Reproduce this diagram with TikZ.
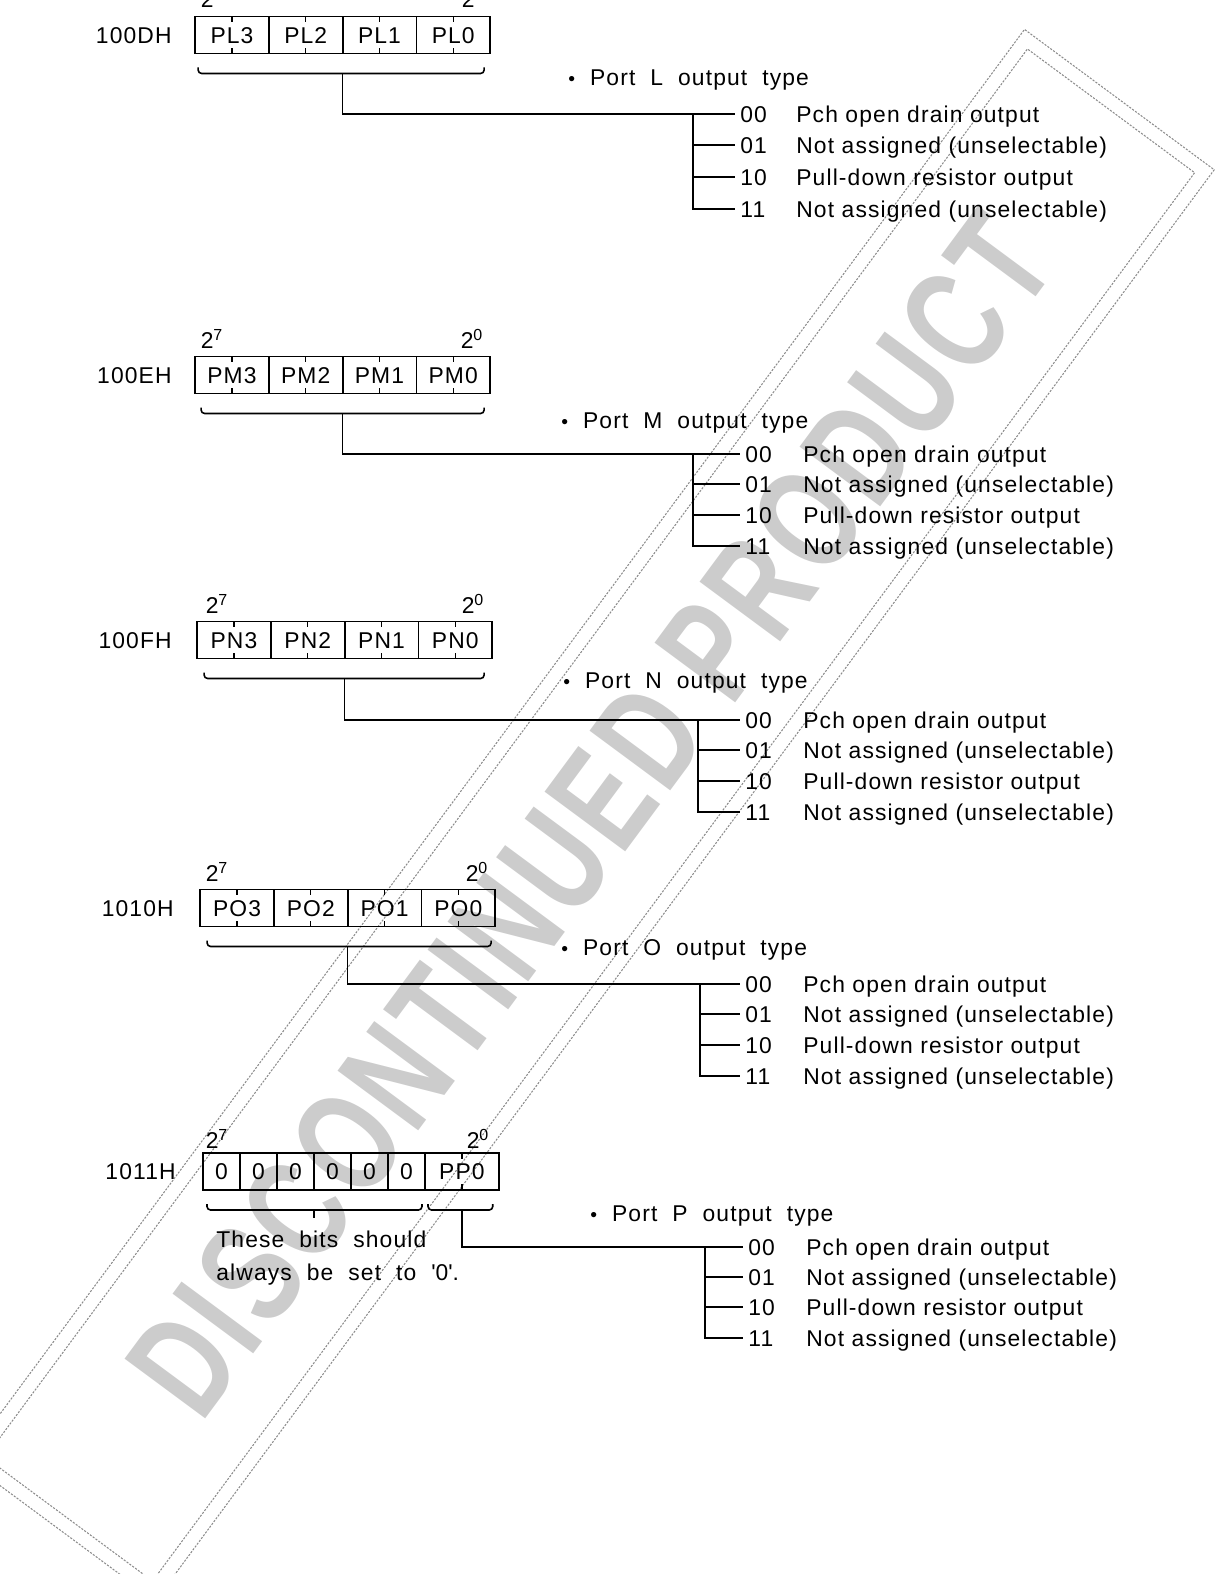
\documentclass[tikz,border=0pt]{standalone}
\usepackage{fontspec}
\setmainfont{Liberation Sans}[LetterSpace=5]
\usetikzlibrary{positioning,calc}
\tikzstyle{txt}=[inner sep=0pt, text height=9.3pt, text depth=0pt]
\tikzstyle{field}=[txt, draw, line width=1pt, minimum width=14.75mm, minimum height=7.4mm, outer sep=0pt,
  path picture={\draw[line width=0.8pt] (path picture bounding box.north) -- ++(0pt,-3.2pt)
    (path picture bounding box.south) -- ++(0pt,3.2pt);}]
\tikzstyle{bit}=[txt, draw, line width=1pt, minimum width=7.4mm, minimum height=7.4mm, outer sep=0pt]
\tikzstyle{addr}=[txt, anchor=east]
\tikzstyle{weight}=[txt]
\tikzstyle{title}=[txt, anchor=west]
\tikzstyle{code}=[txt, anchor=west, inner xsep=1mm]
\tikzstyle{desc}=[txt, anchor=west]
\tikzstyle{note}=[inner sep=0pt, anchor=north west, align=left, font=\fontsize{13}{18.3}\selectfont]
\tikzstyle{wire}=[line width=0.9pt]
\tikzstyle{brace}=[wire, rounded corners=0.7mm]
\tikzstyle{frame}=[draw=black!45, line width=0.6pt, dash pattern=on 1.2pt off 0.8pt]
\tikzstyle{watermark}=[rotate=53.5, xscale=0.72, inner sep=0pt, text=black!20, font=\fontsize{83}{83}\selectfont\bfseries]
\newcommand{\dotmark}{{\fontsize{11}{11}\selectfont\textbullet}\ \ }
\begin{document}
\begin{tikzpicture}[x=0.2mm, y=-0.2mm, font=\fontsize{13}{16}\selectfont]
    \useasboundingbox (0,0) rectangle (1216,1574);

    % stamp
    \begin{scope}[shift={(590,815)}, rotate=53.5]
        \draw[frame] (-890,-118) rectangle (890,118);
        \draw[frame] (-876,-104) rectangle (876,104);
    \end{scope}
    \node[watermark] (stamp) at (590,815) {DISCONTINUED PRODUCT};

    % 100DH
    \node[addr] (Laddr) at (172,35) {100DH};
    \node[weight] (Lhi) at (212,-1) {2\textsuperscript{7}};
    \node[weight] (Llo) at (473,-1) {2\textsuperscript{0}};
    \node[field] (L3) at (232,35) {PL3};
    \node[field, right=0mm of L3] (L2) {PL2};
    \node[field, right=0mm of L2] (L1) {PL1};
    \node[field, right=0mm of L1] (L0) {PL0};
    \draw[brace] ($(L3.south west)+(3,14)$) |- ($(L0.south east)+(-6,20)$) -- ++(0,-6);
    \coordinate (Lb) at ($(L2.south east)+(0,20)$);

    \node[title] (Ltitle) at (568,77) {\dotmark Port\ \ L\ \ output\ \ type};
    \node[code] (L00) at (735,114) {00};
    \node[code] (L01) at (735,145) {01};
    \node[code] (L10) at (735,177) {10};
    \node[code] (L11) at (735,209) {11};
    \node[desc] (Ld00) at (796,114) {Pch open drain output};
    \node[desc] (Ld01) at (796,145) {Not assigned (unselectable)};
    \node[desc] (Ld10) at (796,177) {Pull-down resistor output};
    \node[desc] (Ld11) at (796,209) {Not assigned (unselectable)};
    \coordinate (Lt) at (693,114);
    \draw[wire] (Lb) |- (L00.west);
    \draw[wire] (Lt) |- (L11.west);
    \draw[wire] (Lt |- L01) -- (L01.west);
    \draw[wire] (Lt |- L10) -- (L10.west);

    % 100EH
    \node[addr] (Maddr) at (172,375) {100EH};
    \node[weight] (Mhi) at (212,340) {2\textsuperscript{7}};
    \node[weight] (Mlo) at (472,340) {2\textsuperscript{0}};
    \node[field] (M3) at (232,375) {PM3};
    \node[field, right=0mm of M3] (M2) {PM2};
    \node[field, right=0mm of M2] (M1) {PM1};
    \node[field, right=0mm of M1] (M0) {PM0};
    \draw[brace] ($(M3.south west)+(6,14)$) |- ($(M0.south east)+(-6,20)$) -- ++(0,-6);
    \coordinate (Mb) at ($(M2.south east)+(0,20)$);

    \node[title] (Mtitle) at (561,420) {\dotmark Port\ \ M\ \ output\ \ type};
    \node[code] (M00) at (740,454) {00};
    \node[code] (M01) at (740,484) {01};
    \node[code] (M10) at (740,515) {10};
    \node[code] (M11) at (740,546) {11};
    \node[desc] (Md00) at (803,454) {Pch open drain output};
    \node[desc] (Md01) at (803,484) {Not assigned (unselectable)};
    \node[desc] (Md10) at (803,515) {Pull-down resistor output};
    \node[desc] (Md11) at (803,546) {Not assigned (unselectable)};
    \coordinate (Mt) at (693,454);
    \draw[wire] (Mb) |- (M00.west);
    \draw[wire] (Mt) |- (M11.west);
    \draw[wire] (Mt |- M01) -- (M01.west);
    \draw[wire] (Mt |- M10) -- (M10.west);

    % 100FH
    \node[addr] (Naddr) at (172,640) {100FH};
    \node[weight] (Nhi) at (217,605) {2\textsuperscript{7}};
    \node[weight] (Nlo) at (473,605) {2\textsuperscript{0}};
    \node[field] (N3) at (234,640) {PN3};
    \node[field, right=0mm of N3] (N2) {PN2};
    \node[field, right=0mm of N2] (N1) {PN1};
    \node[field, right=0mm of N1] (N0) {PN0};
    \draw[brace] ($(N3.south west)+(7,14)$) |- ($(N0.south east)+(-8,20)$) -- ++(0,-6);
    \coordinate (Nb) at ($(N2.south east)+(0,20)$);

    \node[title] (Ntitle) at (563,680) {\dotmark Port\ \ N\ \ output\ \ type};
    \node[code] (N00) at (740,720) {00};
    \node[code] (N01) at (740,750) {01};
    \node[code] (N10) at (740,781) {10};
    \node[code] (N11) at (740,812) {11};
    \node[desc] (Nd00) at (803,720) {Pch open drain output};
    \node[desc] (Nd01) at (803,750) {Not assigned (unselectable)};
    \node[desc] (Nd10) at (803,781) {Pull-down resistor output};
    \node[desc] (Nd11) at (803,812) {Not assigned (unselectable)};
    \coordinate (Nt) at (698,720);
    \draw[wire] (Nb) |- (N00.west);
    \draw[wire] (Nt) |- (N11.west);
    \draw[wire] (Nt |- N01) -- (N01.west);
    \draw[wire] (Nt |- N10) -- (N10.west);

    % 1010H
    \node[addr] (Oaddr) at (174,908) {1010H};
    \node[weight] (Ohi) at (217,873) {2\textsuperscript{7}};
    \node[weight] (Olo) at (477,873) {2\textsuperscript{0}};
    \node[field] (O3) at (237,908) {PO3};
    \node[field, right=0mm of O3] (O2) {PO2};
    \node[field, right=0mm of O2] (O1) {PO1};
    \node[field, right=0mm of O1] (O0) {PO0};
    \draw[brace] ($(O3.south west)+(7,14)$) |- ($(O0.south east)+(-4,20)$) -- ++(0,-6);
    \coordinate (Ob) at ($(O2.south east)+(0,20)$);

    \node[title] (Otitle) at (561,947) {\dotmark Port\ \ O\ \ output\ \ type};
    \node[code] (O00) at (740,984) {00};
    \node[code] (O01) at (740,1014) {01};
    \node[code] (O10) at (740,1045) {10};
    \node[code] (O11) at (740,1076) {11};
    \node[desc] (Od00) at (803,984) {Pch open drain output};
    \node[desc] (Od01) at (803,1014) {Not assigned (unselectable)};
    \node[desc] (Od10) at (803,1045) {Pull-down resistor output};
    \node[desc] (Od11) at (803,1076) {Not assigned (unselectable)};
    \coordinate (Ot) at (700,984);
    \draw[wire] (Ob) |- (O00.west);
    \draw[wire] (Ot) |- (O11.west);
    \draw[wire] (Ot |- O01) -- (O01.west);
    \draw[wire] (Ot |- O10) -- (O10.west);

    % 1011H
    \node[addr] (Paddr) at (176,1171) {1011H};
    \node[weight] (Phi) at (217,1140) {2\textsuperscript{7}};
    \node[weight] (Plo) at (478,1140) {2\textsuperscript{0}};
    \node[bit] (P7) at (221.5,1171.5) {0};
    \node[bit, right=0mm of P7] (P6) {0};
    \node[bit, right=0mm of P6] (P5) {0};
    \node[bit, right=0mm of P5] (P4) {0};
    \node[bit, right=0mm of P4] (P3) {0};
    \node[bit, right=0mm of P3] (P2) {0};
    \node[field, right=0mm of P2] (P0) {PP0};
    \draw[brace] ($(P7.south west)+(4,14)$) |- ($(P2.south east)+(-3,20)$) -- ++(0,-6);
    \draw[brace] ($(P0.south west)+(3,14)$) |- ($(P0.south east)+(-6,20)$) -- ++(0,-6);
    \coordinate (Pz) at ($(P5.south east)+(0,20)$);
    \draw[wire] (Pz) -- ++(0,8);
    \coordinate (Pb) at ($(P0.south)+(0,20)$);
    \node[note] (Pnote) at (216,1231)
        {These\ \ bits\ \ should\\always\ \ be\ \ set\ \ to\ \ \textquotesingle 0\textquotesingle.};

    \node[title] (Ptitle) at (590,1213) {\dotmark Port\ \ P\ \ output\ \ type};
    \node[code] (P00) at (743,1247) {00};
    \node[code] (P01) at (743,1277) {01};
    \node[code] (P10) at (743,1307) {10};
    \node[code] (P11) at (743,1338) {11};
    \node[desc] (Pd00) at (806,1247) {Pch open drain output};
    \node[desc] (Pd01) at (806,1277) {Not assigned (unselectable)};
    \node[desc] (Pd10) at (806,1307) {Pull-down resistor output};
    \node[desc] (Pd11) at (806,1338) {Not assigned (unselectable)};
    \coordinate (Pt) at (705,1247);
    \draw[wire] (Pb) |- (P00.west);
    \draw[wire] (Pt) |- (P11.west);
    \draw[wire] (Pt |- P01) -- (P01.west);
    \draw[wire] (Pt |- P10) -- (P10.west);

\end{tikzpicture}
\end{document}
